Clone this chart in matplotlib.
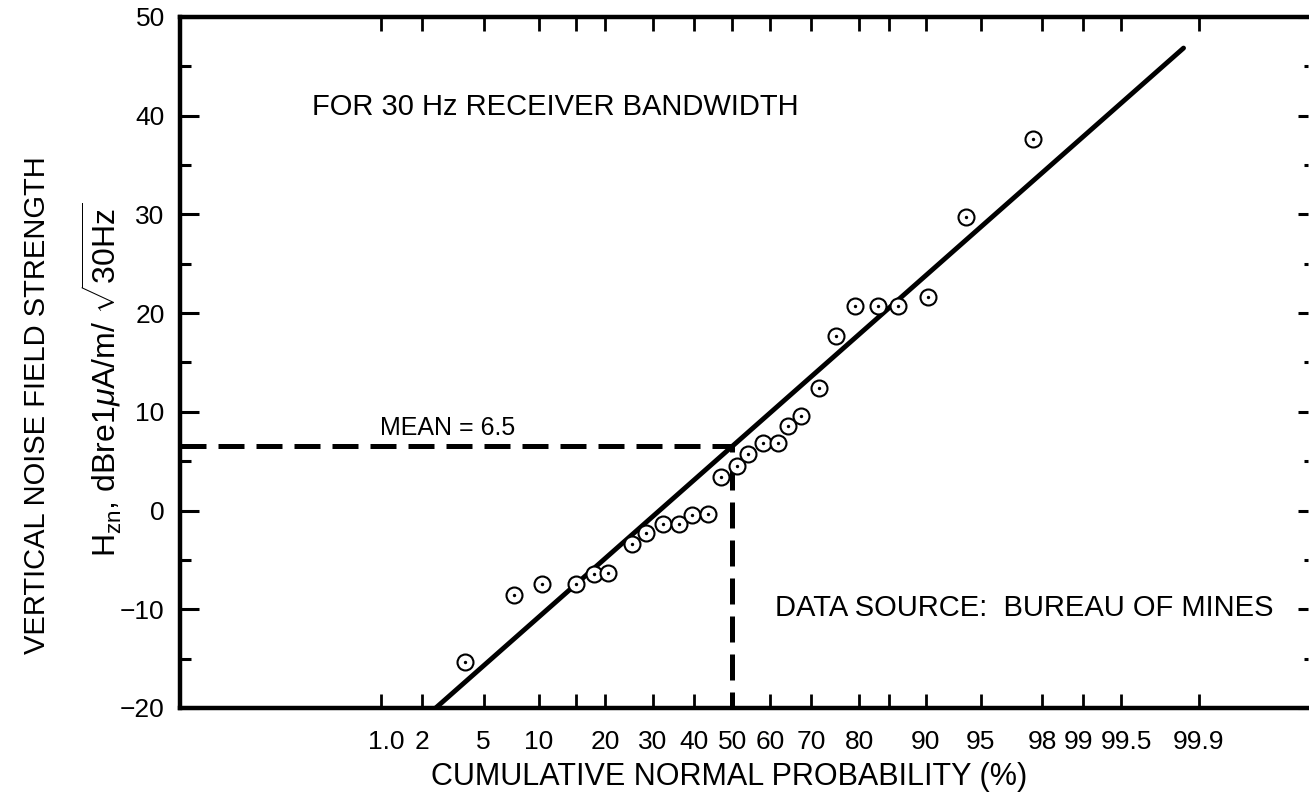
import numpy as np
import matplotlib
matplotlib.use("Agg")
import matplotlib.pyplot as plt
import matplotlib.transforms as mtransforms
from statistics import NormalDist

plt.rcParams['font.family'] = ['Liberation Sans', 'DejaVu Sans']
plt.rcParams['mathtext.fontset'] = 'custom'
plt.rcParams['mathtext.rm'] = 'Liberation Sans'
plt.rcParams['mathtext.it'] = 'Liberation Sans:italic'

# cumulative probability (%) and field strength for each sample
prob = [3.85, 7.4, 10.4, 15.1, 18.0, 20.6, 25.4, 28.4, 32.4, 36.3, 39.5, 43.7,
        47.1, 51.3, 54.2, 58.1, 62.0, 64.5, 67.6, 71.8, 75.5, 79.2, 83.3, 86.4,
        90.3, 93.9, 97.7]
hzn = [-15.3, -8.6, -7.45, -7.45, -6.4, -6.3, -3.4, -2.3, -1.4, -1.4, -0.5, -0.4,
       3.4, 4.5, 5.7, 6.8, 6.8, 8.6, 9.6, 12.4, 17.7, 20.7, 20.7, 20.7,
       21.6, 29.7, 37.6]

# fitted normal distribution
mean = 6.5
sigma = 13.5
fit_range = [2.49, 99.86]

prob_ticks = [1, 2, 5, 10, 15, 20, 30, 40, 50, 60, 70, 80, 85, 90, 95, 98, 99, 99.5, 99.9]
prob_labels = ['1.0', '2', '5', '10', '', '20', '30', '40', '50', '60', '70', '80', '',
               '90', '95', '98', '99', '99.5', '99.9']

nd = NormalDist()


def to_z(p):
    p = np.asarray(p, dtype=float)
    q = np.clip(p / 100.0, 1e-12, 1 - 1e-12)
    return np.array([nd.inv_cdf(v) for v in q.ravel()]).reshape(q.shape)


def from_z(z):
    z = np.asarray(z, dtype=float)
    return np.array([nd.cdf(v) * 100.0 for v in z.ravel()]).reshape(z.shape)


fig = plt.figure(figsize=(13.09, 7.97), dpi=100)
ax = fig.add_axes([0.1375, 0.1117, 0.862, 0.867])
ax.set_xscale('function', functions=(to_z, from_z))
ax.set_xlim(0.0128, 99.9932)
ax.set_ylim(-20, 50)

# fitted line
fit_p = np.array(fit_range)
fit_v = mean + sigma * to_z(fit_p)
ax.plot(fit_p, fit_v, color='black', lw=3.5, solid_capstyle='round')

# mean marker lines
ax.plot([0.0128, 50, 50], [mean, mean, -20], color='black', lw=3.6,
        dashes=(5.2, 2.4), clip_on=False)

# samples: open circle with a dot in the centre
ax.plot(prob, hzn, 'o', ms=11.5, mfc='white', mec='black', mew=1.5, ls='none')
ax.plot(prob, hzn, '.', ms=2.8, color='black', ls='none')

ax.set_xticks(prob_ticks)
ax.set_xticklabels(prob_labels)
ax.xaxis.set_minor_locator(matplotlib.ticker.NullLocator())
ax.tick_params(axis='x', which='major', direction='in', length=10, width=2,
               top=True, bottom=True, labelsize=19, pad=16)

# nudge crowded labels apart
nudge = {'1.0': 5, '99': -5, '99.5': 5}
for lab in ax.get_xticklabels():
    dx = nudge.get(lab.get_text(), 0)
    if dx:
        off = mtransforms.ScaledTranslation(dx / 100.0, 0, fig.dpi_scale_trans)
        lab.set_transform(lab.get_transform() + off)

ax.set_yticks(np.arange(-20, 51, 10))
ax.set_yticks(np.arange(-15, 50, 10), minor=True)
ax.set_yticklabels(['\u221220', '\u221210', '0', '10', '20', '30', '40', '50'])
ax.tick_params(axis='y', which='major', direction='in', length=14, width=2.2,
               left=True, right=False, labelsize=19, pad=11)
ax.tick_params(axis='y', which='minor', direction='in', length=8, width=2.2,
               left=True, right=False)

for side in ['left', 'top', 'bottom']:
    ax.spines[side].set_linewidth(3.2)
ax.spines['right'].set_visible(False)

# short ticks along the right edge
sec = ax.secondary_yaxis('right')
sec.spines['right'].set_visible(False)
sec.set_yticks(np.arange(-20, 51, 10))
sec.set_yticks(np.arange(-15, 50, 10), minor=True)
sec.tick_params(which='major', direction='in', length=7, width=2.2, labelright=False)
sec.tick_params(which='minor', direction='in', length=3, width=2.2, labelright=False)

ax.text(0.117, 0.87, 'FOR 30 Hz RECEIVER BANDWIDTH', transform=ax.transAxes,
        fontsize=21, va='center', ha='left')
ax.text(0.177, 0.405, 'MEAN = 6.5', transform=ax.transAxes,
        fontsize=18, va='center', ha='left')
ax.text(0.527, 0.145, 'DATA SOURCE:  BUREAU OF MINES', transform=ax.transAxes,
        fontsize=21, va='center', ha='left')

ax.set_xlabel('CUMULATIVE NORMAL PROBABILITY (%)', fontsize=22, va='center')
ax.xaxis.set_label_coords(0.487, -0.1)
fig.text(0.028, 0.492, 'VERTICAL NOISE FIELD STRENGTH', rotation=90,
         fontsize=21, va='center', ha='center')
fig.text(0.077, 0.523, r'H$_{\mathrm{zn}}$, dBre1$\mu$A/m/ $\sqrt{\mathrm{30Hz}}$',
         rotation=90, fontsize=23, va='center', ha='center')

fig.savefig('out.png', dpi=100)
